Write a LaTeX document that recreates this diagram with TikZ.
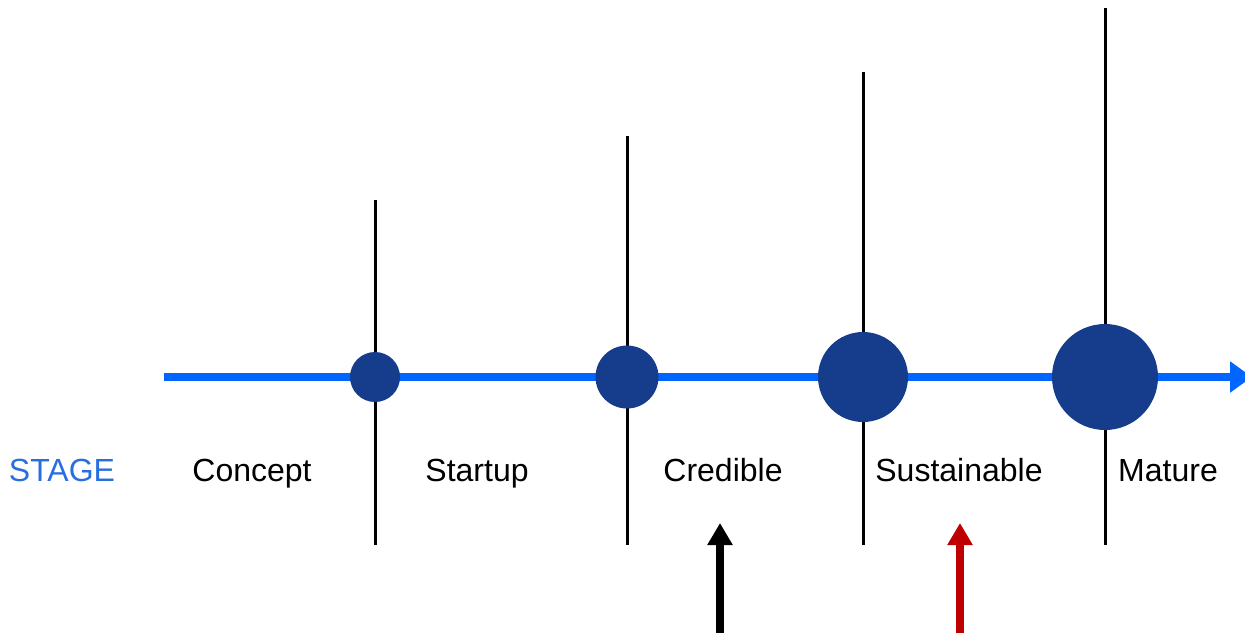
\documentclass[tikz,border=0pt]{standalone}
\usepackage{fontspec}
\setmainfont{Liberation Sans}
\usetikzlibrary{arrows.meta}
\definecolor{axisblue}{RGB}{0,102,255}
\definecolor{dotblue}{RGB}{22,60,140}
\definecolor{stageblue}{RGB}{40,110,225}
\definecolor{arrred}{RGB}{192,0,0}
\tikzset{
  dot/.style={circle,fill=dotblue,inner sep=0pt,minimum size=#1},
  tick/.style={line width=3pt,black},
  lbl/.style={anchor=base,inner sep=0pt,font=\fontsize{32}{37}\selectfont},
  uparrow/.style={line width=8pt,-{Triangle[length=22pt,width=24pt]}},
}
\begin{document}
\begin{tikzpicture}[x=1pt,y=-1pt]
\useasboundingbox (0,0) rectangle (1245,633);
% vertical ticks
\coordinate (t1a) at (375,200); \coordinate (t1b) at (375,545);
\coordinate (t2a) at (627,136); \coordinate (t2b) at (627,545);
\coordinate (t3a) at (863,72);  \coordinate (t3b) at (863,545);
\coordinate (t4a) at (1105,8);  \coordinate (t4b) at (1105,545);
\draw[tick] (t1a) -- (t1b);
\draw[tick] (t2a) -- (t2b);
\draw[tick] (t3a) -- (t3b);
\draw[tick] (t4a) -- (t4b);
% axis
\coordinate (ax0) at (164,377);
\coordinate (ax1) at (1252,377);
\draw[axisblue,line width=8.5pt,-{Triangle[length=22pt,width=30pt]}] (ax0) -- (ax1);
% dots
\node[dot=50pt]  (d1) at (375,377) {};
\node[dot=63pt]  (d2) at (627,377) {};
\node[dot=90pt]  (d3) at (863,377) {};
\node[dot=106pt] (d4) at (1105,377) {};
% labels
\node[lbl,text=stageblue] (stage) at (62,481) {STAGE};
\node[lbl] (concept) at (252,481) {Concept};
\node[lbl] (startup) at (477,481) {Startup};
\node[lbl] (credible) at (723,481) {Credible};
\node[lbl] (sustain) at (959,481) {Sustainable};
\node[lbl] (mature) at (1168,481) {Mature};
% pointer arrows
\coordinate (p1a) at (720,633); \coordinate (p1b) at (720,523);
\coordinate (p2a) at (960,633); \coordinate (p2b) at (960,523);
\draw[uparrow,black] (p1a) -- (p1b);
\draw[uparrow,arrred] (p2a) -- (p2b);
\end{tikzpicture}
\end{document}
